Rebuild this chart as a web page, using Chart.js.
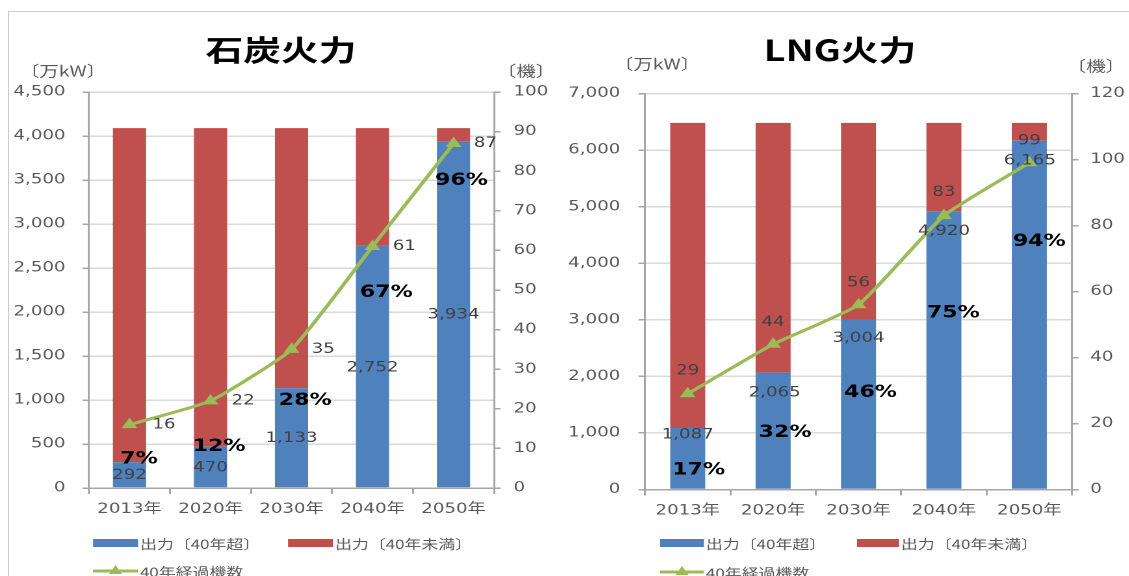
<!DOCTYPE html>
<html><head><meta charset="utf-8">
<script src="https://cdn.jsdelivr.net/npm/chart.js@4"></script>
<style>
html,body{margin:0;padding:0;background:#fff;width:1129px;height:576px;overflow:hidden;}
.frame{position:absolute;left:8px;top:11px;right:0;bottom:-5px;border-top:1.5px solid #cccccc;border-left:1.5px solid #cccccc;}
.wrap{position:absolute;top:0;height:576px;transform-origin:0 0;}
</style></head><body>
<div class="frame"></div>
<div class="wrap" id="wL"><canvas id="cL"></canvas></div>
<div class="wrap" id="wR"><canvas id="cR"></canvas></div>
<script>
// ---- data ----
const categories = ['2013年', '2020年', '2030年', '2040年', '2050年'];
const coalOver40 = [292, 470, 1133, 2752, 3934];
const coalUnder40 = [3798, 3620, 2957, 1338, 156];
const coalUnits = [16, 22, 35, 61, 87];
const coalShare = [7, 12, 28, 67, 96];
const lngOver40 = [1087, 2065, 3004, 4920, 6165];
const lngUnder40 = [5393, 4415, 3476, 1560, 315];
const lngUnits = [29, 44, 56, 83, 99];
const lngShare = [17, 32, 46, 75, 94];
const coalOutputTicks = [0, 500, 1000, 1500, 2000, 2500, 3000, 3500, 4000, 4500];
const coalUnitTicks = [0, 10, 20, 30, 40, 50, 60, 70, 80, 90, 100];
const lngOutputTicks = [0, 1000, 2000, 3000, 4000, 5000, 6000, 7000];
const lngUnitTicks = [0, 20, 40, 60, 80, 100, 120];
const titles = ['石炭火力', 'LNG火力'];
const unitLabels = ['〔万kW〕', '〔機〕'];
const legendLabels = ['出力〔40年超〕', '出力〔40年未満〕', '40年経過機数'];

// ---- layout / style ----
const S = 1.3; // horizontal stretch of the original picture
const COLORS = { blue: '#4f81bd', red: '#c0504d', green: '#9bbb59', grid: '#d9d9d9', axis: '#a6a6a6', tick: '#595959', label: '#404040' };
const NUMFONT = '"DejaVu Sans", "Noto Sans CJK JP", sans-serif';
const JPFONT = '"Noto Sans CJK JP", sans-serif';

const layoutL = {
  wrapLeft: 0, wrapWidth: 431,
  plotLeft: 89, plotRight: 494, plotTop: 92, plotBottom: 488,
  yPad: 13, y2Pad: 10,
  title: [281, 50], unitL: [63, 71], unitR: [526, 71],
  legendRows: [543, 571],
  legendItems: [[93, 138, 0], [288, 333, 0], [93, 138, 1]],
  valueOff: [[0, 13], [0, 21], [0, 50], [0, 122], [0, 173]],
  shareOff: [[9.5, -3], [8.6, 0], [13.7, 12.5], [13.8, 46.6], [8, 39]],
  unitsOff: [[34.5, 0], [32.6, 0], [31.7, 0], [31.8, 0], [31.9, 0]]
};
const layoutR = {
  wrapLeft: 560, wrapWidth: 452,
  plotLeft: 645, plotRight: 1072, plotTop: 93.5, plotBottom: 489.5,
  yPad: 14, y2Pad: 9,
  title: [840, 50], unitL: [657, 64], unitR: [1096, 66],
  legendRows: [543, 572],
  legendItems: [[660, 704, 0], [857, 899, 0], [660, 704, 1]],
  valueOff: [[0, 7], [1.6, 20], [0, 19], [0, 20], [0.6, 20]],
  shareOff: [[11, 42], [12, 60], [12, 73], [9.4, 102], [10, 101]],
  unitsOff: [[0, -23], [0, -22], [0, -22], [0, -23], [0, -22]]
};

function buildChart(canvasId, wrapId, L, title, over, under, units, share, yTicks, y2Ticks) {
  const wrap = document.getElementById(wrapId);
  wrap.style.left = L.wrapLeft + 'px';
  wrap.style.width = L.wrapWidth + 'px';
  wrap.style.transform = 'scaleX(' + S + ')';
  const lx = px => (px - L.wrapLeft) / S;
  const padL = 4, padR = 4, xAxisH = 40;
  const plotL = lx(L.plotLeft), plotR = lx(L.plotRight);
  const yW = plotL - padL;
  const y2W = L.wrapWidth - padR - plotR;

  const annot = {
    id: 'annot_' + canvasId,
    afterDatasetsDraw(chart) {
      const ctx = chart.ctx, xs = chart.scales.x, ys = chart.scales.y, y2s = chart.scales.y2;
      ctx.save();
      ctx.textAlign = 'center';
      ctx.textBaseline = 'middle';
      categories.forEach((c, i) => {
        const cx = xs.getPixelForValue(i);
        const top = ys.getPixelForValue(over[i]);
        ctx.font = '14px ' + NUMFONT;
        ctx.fillStyle = COLORS.label;
        ctx.fillText(over[i].toLocaleString('en-US'), cx + L.valueOff[i][0] / S, top + L.valueOff[i][1]);
        const py = y2s.getPixelForValue(units[i]);
        ctx.fillText(String(units[i]), cx + L.unitsOff[i][0] / S, py + L.unitsOff[i][1]);
        ctx.font = 'bold 17px ' + NUMFONT;
        ctx.fillStyle = '#000';
        ctx.fillText(share[i] + '%', cx + L.shareOff[i][0] / S, top + L.shareOff[i][1]);
      });
      ctx.restore();
    },
    afterDraw(chart) {
      const ctx = chart.ctx;
      ctx.save();
      ctx.textBaseline = 'middle';
      ctx.textAlign = 'center';
      ctx.fillStyle = '#000';
      ctx.font = 'bold 29px ' + JPFONT;
      ctx.fillText(title, lx(L.title[0]), L.title[1]);
      ctx.font = '15px ' + JPFONT;
      ctx.fillStyle = COLORS.tick;
      ctx.fillText(unitLabels[0], lx(L.unitL[0]), L.unitL[1]);
      ctx.fillText(unitLabels[1], lx(L.unitR[0]), L.unitR[1]);
      // legend
      ctx.textAlign = 'left';
      ctx.font = '13px ' + JPFONT;
      const ds = chart.data.datasets;
      L.legendItems.forEach((it, i) => {
        const x0 = lx(it[0]), x1 = lx(it[1]);
        const y = L.legendRows[it[2]];
        if (ds[i].type === 'line') {
          ctx.strokeStyle = ds[i].borderColor;
          ctx.lineWidth = 3;
          ctx.beginPath(); ctx.moveTo(x0, y); ctx.lineTo(x1, y); ctx.stroke();
          const mx = (x0 + x1) / 2;
          ctx.fillStyle = ds[i].borderColor;
          ctx.beginPath(); ctx.moveTo(mx, y - 6); ctx.lineTo(mx + 5, y + 3); ctx.lineTo(mx - 5, y + 3); ctx.closePath(); ctx.fill();
        } else {
          ctx.fillStyle = ds[i].backgroundColor;
          ctx.fillRect(x0, y - 4, x1 - x0, 8);
        }
        ctx.fillStyle = COLORS.tick;
        ctx.fillText(ds[i].label, x1 + 2 / S, y + 1);
      });
      ctx.restore();
    }
  };

  const tickList = arr => s => { s.ticks = arr.map(v => ({ value: v })); };

  return new Chart(document.getElementById(canvasId), {
    type: 'bar',
    data: {
      labels: categories,
      datasets: [
        { label: legendLabels[0], data: over, backgroundColor: COLORS.blue, stack: 's', order: 2, categoryPercentage: 0.41, barPercentage: 1 },
        { label: legendLabels[1], data: under, backgroundColor: COLORS.red, stack: 's', order: 2, categoryPercentage: 0.41, barPercentage: 1 },
        { type: 'line', label: legendLabels[2], data: units, yAxisID: 'y2', borderColor: COLORS.green, backgroundColor: COLORS.green,
          borderWidth: 3, pointStyle: 'triangle', pointRadius: 6, pointBorderWidth: 1, tension: 0.15, order: 0 }
      ]
    },
    options: {
      responsive: true, maintainAspectRatio: false, animation: false, devicePixelRatio: 2,
      events: [],
      layout: { padding: { left: padL, right: padR, top: L.plotTop, bottom: 576 - L.plotBottom - xAxisH } },
      plugins: { legend: { display: false }, title: { display: false }, tooltip: { enabled: false } },
      scales: {
        x: {
          stacked: true,
          afterFit: s => { s.height = xAxisH; },
          grid: { display: true, drawOnChartArea: false, drawTicks: true, tickLength: 6, tickColor: COLORS.axis, lineWidth: 1.5, offset: true },
          border: { display: true, color: COLORS.axis, width: 1.5 },
          ticks: { font: { family: NUMFONT, size: 14 }, color: COLORS.tick, padding: 7, maxRotation: 0 }
        },
        y: {
          position: 'left', stacked: true,
          min: yTicks[0], max: yTicks[yTicks.length - 1],
          afterBuildTicks: tickList(yTicks),
          afterFit: s => { s.width = yW; },
          grid: { color: COLORS.grid, lineWidth: 1.5, tickLength: 5, tickColor: COLORS.axis },
          border: { display: true, color: COLORS.axis, width: 1.5 },
          ticks: { font: { family: NUMFONT, size: 14 }, color: COLORS.tick, padding: L.yPad, callback: v => v.toLocaleString('en-US') }
        },
        y2: {
          position: 'right',
          min: y2Ticks[0], max: y2Ticks[y2Ticks.length - 1],
          afterBuildTicks: tickList(y2Ticks),
          afterFit: s => { s.width = y2W; },
          grid: { drawOnChartArea: false, tickLength: 5, tickColor: COLORS.axis, lineWidth: 1.5 },
          border: { display: true, color: COLORS.axis, width: 1.5 },
          ticks: { font: { family: NUMFONT, size: 14 }, color: COLORS.tick, padding: L.y2Pad }
        }
      }
    },
    plugins: [annot]
  });
}

buildChart('cL', 'wL', layoutL, titles[0], coalOver40, coalUnder40, coalUnits, coalShare, coalOutputTicks, coalUnitTicks);
buildChart('cR', 'wR', layoutR, titles[1], lngOver40, lngUnder40, lngUnits, lngShare, lngOutputTicks, lngUnitTicks);
</script>
</body></html>
